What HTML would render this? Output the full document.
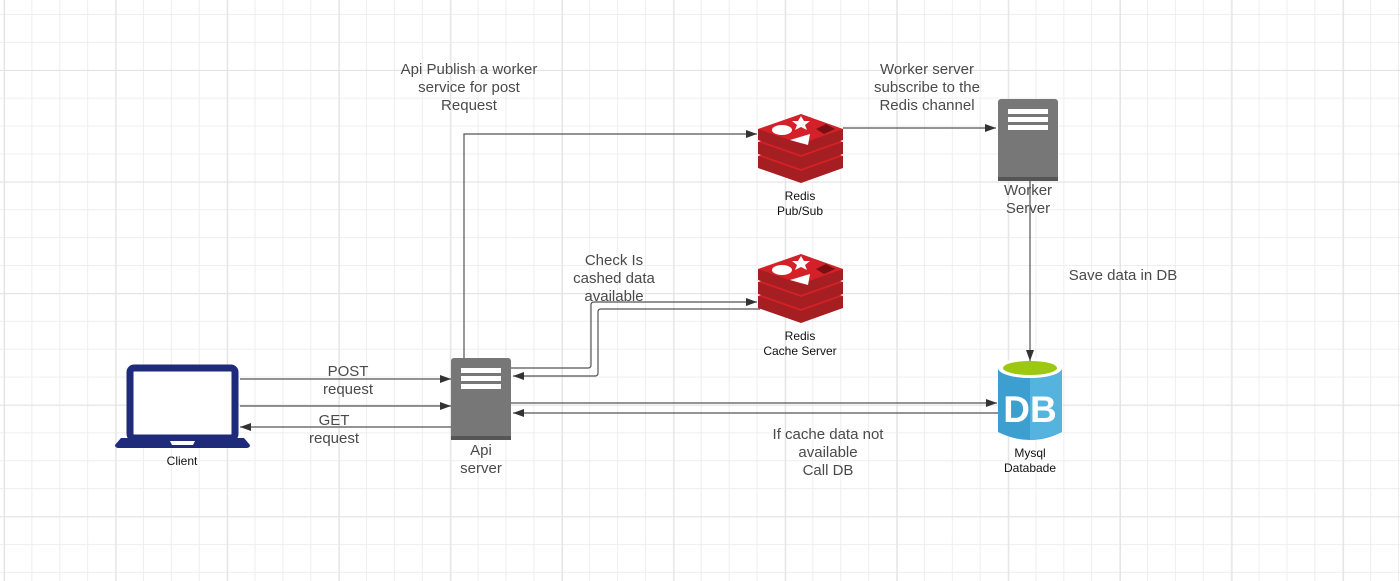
<!DOCTYPE html>
<html><head><meta charset="utf-8"><style>
html,body{margin:0;padding:0;background:#fff;}
body{width:1400px;height:581px;overflow:hidden;position:relative;font-family:"Liberation Sans",sans-serif;}
.grid{position:absolute;inset:0;
background-image:linear-gradient(to right,#e3e3e3 1px,transparent 1px),linear-gradient(to bottom,#e3e3e3 1px,transparent 1px),linear-gradient(to right,#eeeeee 1px,transparent 1px),linear-gradient(to bottom,#eeeeee 1px,transparent 1px);
background-size:111.6px 111.6px,111.6px 111.6px,27.9px 27.9px,27.9px 27.9px;background-position:4px 70px,4px 70px,3.5px 14px,3.5px 14px;}
.t{position:absolute;color:#4a4a4a;font-size:15px;line-height:18px;text-align:center;white-space:nowrap;transform:translateX(-50%);}
.s{position:absolute;color:#111;font-size:12px;line-height:15px;text-align:center;white-space:nowrap;transform:translateX(-50%);}
svg{position:absolute;left:0;top:0;}
</style></head><body>
<div class="grid"></div>
<svg width="1400" height="581" viewBox="0 0 1400 581">
<defs>
<marker id="a" markerWidth="12" markerHeight="10" refX="11" refY="5" orient="auto" markerUnits="userSpaceOnUse">
<path d="M0,1 L11,5 L0,9 Z" fill="#333"/></marker>
<g id="redis">
<path d="M0,44 L0,56 L43,71 L85,56 L85,44 Z" fill="#a41e22"/>
<path d="M0,44 L43,30 L85,44 L43,59 Z" fill="#d42029"/>
<path d="M0,30 L0,42 L43,57 L85,42 L85,30 Z" fill="#a41e22"/>
<path d="M0,30 L43,16 L85,30 L43,45 Z" fill="#d42029"/>
<path d="M0,17 L0,28 L43,43 L85,28 L85,17 Z" fill="#a41e22"/>
<path d="M0,17 L43,2 L85,17 L43,32 Z" fill="#d42029"/>
<ellipse cx="24" cy="18" rx="10" ry="5" fill="#fff"/>
<path d="M43,4 l3,5 6,0 -5,4 2,5 -6,-3 -6,3 2,-5 -5,-4 6,0 Z" fill="#fff"/>
<path d="M32,28 L52,22 L50,33 Z" fill="#fff"/>
<path d="M58,17 L68,12 L77,17 L66,22 Z" fill="#7a1014"/>
</g>
<g id="srv">
<rect x="0" y="0" width="60" height="82" rx="3" fill="#777"/>
<rect x="0" y="78" width="60" height="4" fill="#555"/>
<rect x="10" y="10" width="40" height="5" fill="#fff"/>
<rect x="10" y="18" width="40" height="5" fill="#fff"/>
<rect x="10" y="26" width="40" height="5" fill="#fff"/>
</g>
</defs>
<rect x="130" y="368" width="105" height="70" rx="4" fill="#fff" stroke="#1e2a7a" stroke-width="7"/>
<path d="M121,438 L244,438 L250,445 Q250,448 246,448 L119,448 Q115,448 115,445 Z" fill="#1e2a7a"/>
<path d="M170,441 L195,441 L193,445 L172,445 Z" fill="#fff"/>
<use href="#srv" x="451" y="358"/>
<use href="#srv" x="998" y="99"/>
<use href="#redis" x="758" y="112"/>
<use href="#redis" x="758" y="252"/>
<path d="M998,368 L998,432 Q1030,448 1062,432 L1062,368 Z" fill="#3c9fd0"/>
<path d="M1030,368 L1030,440 Q1048,438 1062,432 L1062,368 Z" fill="#55b4df"/>
<ellipse cx="1030" cy="368" rx="32" ry="10" fill="#fff"/>
<ellipse cx="1030" cy="368" rx="27" ry="7" fill="#9cc812"/>
<text x="1030" y="422" font-family="Liberation Sans" font-weight="bold" font-size="37" fill="#fff" text-anchor="middle">DB</text>
<g stroke="#555" stroke-width="1.2" fill="none">
<path d="M240,379 L451,379" marker-end="url(#a)"/>
<path d="M240,406 L451,406" marker-end="url(#a)"/>
<path d="M451,427 L240,427" marker-end="url(#a)"/>
<path d="M464,358 L464,134 L757,134" marker-end="url(#a)"/>
<path d="M843,128 L996,128" marker-end="url(#a)"/>
<path d="M1030,181 L1030,361" marker-end="url(#a)"/>
<path d="M511,368 L588,368 Q591,368 591,365 L591,305 Q591,302 594,302 L757,302" marker-end="url(#a)"/>
<path d="M760,309 L601,309 Q598,309 598,312 L598,373 Q598,376 595,376 L513,376" marker-end="url(#a)"/>
<path d="M511,403 L997,403" marker-end="url(#a)"/>
<path d="M998,413 L513,413" marker-end="url(#a)"/>
</g>
</svg>
<div class="t" style="left:348px;top:363px">POST<br>request</div>
<div class="t" style="left:334px;top:412px">GET<br>request</div>
<div class="t" style="left:481px;top:442px">Api<br>server</div>
<div class="t" style="left:469px;top:61px">Api Publish a worker<br>service for post<br>Request</div>
<div class="t" style="left:927px;top:61px">Worker server<br>subscribe to the<br>Redis channel</div>
<div class="t" style="left:1028px;top:182px">Worker<br>Server</div>
<div class="t" style="left:1123px;top:267px">Save data in DB</div>
<div class="t" style="left:614px;top:252px">Check Is<br>cashed data<br>available</div>
<div class="t" style="left:828px;top:426px">If cache data not<br>available<br>Call DB</div>
<div class="s" style="left:182px;top:454px">Client</div>
<div class="s" style="left:800px;top:189px">Redis<br>Pub/Sub</div>
<div class="s" style="left:800px;top:329px">Redis<br>Cache Server</div>
<div class="s" style="left:1030px;top:446px">Mysql<br>Databade</div>
</body></html>
